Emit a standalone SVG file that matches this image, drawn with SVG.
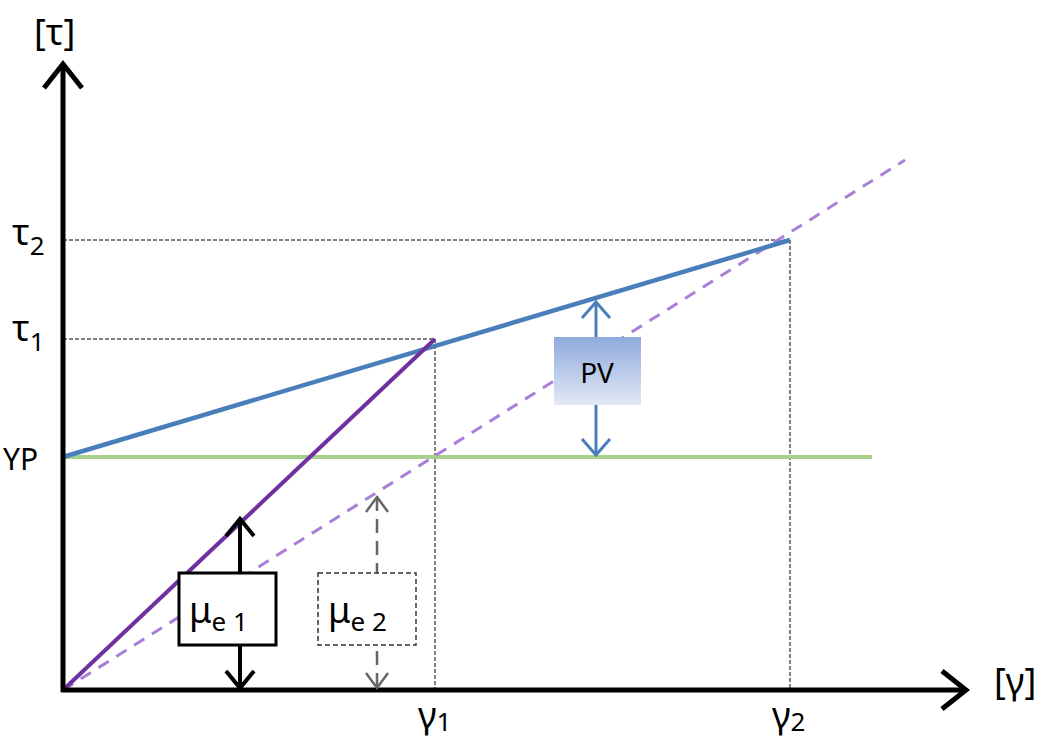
<svg xmlns="http://www.w3.org/2000/svg" width="1043" height="745" viewBox="0 0 1043 745">
<defs>
<style>
text{font-family:"Noto Sans","Liberation Sans",sans-serif;fill:#000}
.lbl{font-size:36px}
.sub{font-size:26px}
.guide{stroke:#000;stroke-width:1;stroke-dasharray:4,2;fill:none}
</style>
<linearGradient id="pvg" x1="0" y1="0" x2="0" y2="1">
<stop offset="0" stop-color="#8faadc"/>
<stop offset="1" stop-color="#e3e9f5"/>
</linearGradient>
</defs>
<rect width="1043" height="745" fill="#fff"/>
<g id="guides">
<line class="guide" x1="63" y1="240" x2="790" y2="240"/>
<line class="guide" x1="63" y1="339" x2="435" y2="339"/>
<line class="guide" x1="435" y1="339" x2="435" y2="690"/>
<line class="guide" x1="790" y1="240" x2="790" y2="690"/>
</g>
<g id="curves">
<line x1="63" y1="457" x2="872" y2="457" stroke="#a9d18e" stroke-width="4"/>
<line x1="63" y1="690" x2="905" y2="160" stroke="#a880d8" stroke-width="3" stroke-dasharray="12,9"/>
<line x1="63" y1="457" x2="790" y2="240" stroke="#4a7ebb" stroke-width="4.5"/>
<line x1="63" y1="690" x2="435" y2="339" stroke="#7030a0" stroke-width="4"/>
</g>
<g id="axes">
<line x1="63" y1="692" x2="63" y2="66" stroke="#000" stroke-width="5"/>
<path d="M44,88 L63,64 L82,88" fill="none" stroke="#000" stroke-width="5"/>
<line x1="61" y1="690" x2="964" y2="690" stroke="#000" stroke-width="5"/>
<path d="M942,671 L966,690 L942,709" fill="none" stroke="#000" stroke-width="5"/>
</g>
<g id="connectors">
<g stroke="#4a7ebb" stroke-width="3" fill="none">
<line x1="596" y1="302" x2="596" y2="455"/>
<path d="M582,318 L596,302 L610,318"/>
<path d="M582,439 L596,455 L610,439"/>
</g>
<g stroke="#000" stroke-width="4" fill="none">
<line x1="240" y1="519" x2="240" y2="688"/>
<path d="M226,536 L240,519 L254,536"/>
<path d="M226,671 L240,688 L254,671"/>
</g>
<g stroke="#666" stroke-width="2.5" fill="none">
<line x1="377" y1="497" x2="377" y2="688" stroke-dasharray="14,8"/>
<path d="M366,512 L377,497 L388,512"/>
<path d="M366,673 L377,688 L388,673"/>
</g>
</g>
<g id="node-pv">
<rect x="554" y="337" width="87" height="68" fill="url(#pvg)"/>
<text x="597" y="383" font-size="28" text-anchor="middle" fill="#222">PV</text>
</g>
<g id="node-mue1">
<rect x="179" y="573" width="97" height="72" fill="#fff" stroke="#000" stroke-width="3"/>
<text x="189" y="623" class="lbl">μ<tspan class="sub" dy="8">e 1</tspan></text>
</g>
<g id="node-mue2">
<rect x="318" y="573" width="98" height="72" fill="#fff" stroke="#333" stroke-width="1.5" stroke-dasharray="5,3"/>
<text x="328" y="623" class="lbl">μ<tspan class="sub" dy="8">e 2</tspan></text>
</g>
<g id="labels">
<text x="34" y="45" class="lbl">[τ]</text>
<text x="12" y="245" class="lbl">τ<tspan class="sub" dy="10">2</tspan></text>
<text x="12" y="341" class="lbl">τ<tspan class="sub" dy="10">1</tspan></text>
<text x="3" y="470" font-size="30">YP</text>
<text x="418" y="728" class="lbl">γ<tspan class="sub" dy="3">1</tspan></text>
<text x="772" y="728" class="lbl">γ<tspan class="sub" dy="3">2</tspan></text>
<text x="994" y="694" class="lbl">[γ]</text>
</g>
</svg>
